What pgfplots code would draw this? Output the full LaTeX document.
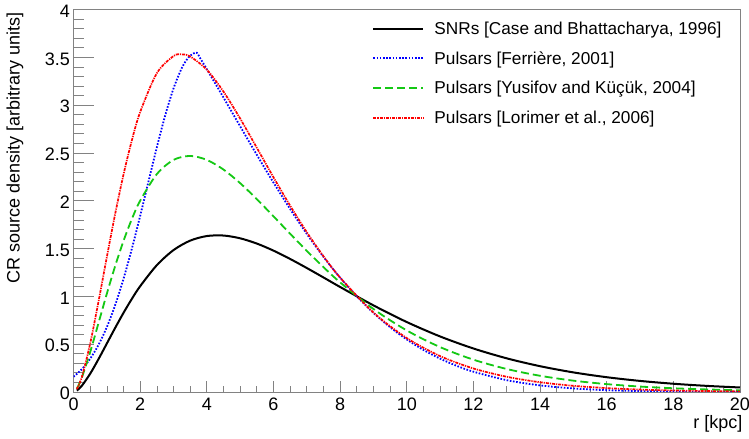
\documentclass[border=0pt]{standalone}
\usepackage{pgfplots}
\pgfplotsset{compat=1.18}
\usepackage{fontspec}
\setmainfont{Liberation Sans}
\definecolor{rootgreen}{RGB}{20,200,20}
\definecolor{rootred}{RGB}{255,0,0}
\definecolor{framegray}{RGB}{130,130,130}
\begin{document}
\fontsize{18bp}{21bp}\selectfont
\begin{tikzpicture}
\pgfplotsset{
  rootframe/.style={
    scale only axis, width=666bp, height=382.2bp,
    xmin=0, xmax=20, ymin=0, ymax=4,
    tick align=inside, tick pos=left,
    tick style={framegray, line width=0.7bp},
    /pgf/number format/assume math mode=true,
  },
}
\tikzset{
  snrline/.style={draw=black, line width=2bp, solid},
  ferline/.style={draw=blue, line width=1.8bp, dash pattern=on 1.6bp off 1.6bp},
  yusline/.style={draw=rootgreen, line width=1.8bp, dash pattern=on 8bp off 4bp},
  lorline/.style={draw=rootred, line width=1.7bp, dash pattern=on 3bp off 1bp on 1.2bp off 1bp},
}
% y ticks (longer, as in ROOT)
\begin{axis}[rootframe,
  axis line style={draw=none},
  xtick=\empty,
  ytick={0,0.5,...,4}, minor y tick num=4,
  major tick length=20bp, minor tick length=10bp,
  yticklabel style={xshift=2.5bp, yshift=-1.5bp},
]
\end{axis}
\begin{axis}[rootframe, name=main,
  axis line style={framegray, line width=0.8bp},
  xtick={0,2,...,20}, minor x tick num=3,
  ytick=\empty,
  major tick length=11bp, minor tick length=5.5bp,
  xlabel={r [kpc]},
  xlabel style={at={(axis description cs:1.0038,-0.0845)}, anchor=east, inner sep=0pt},
  ylabel={CR source density [arbitrary units]},
  ylabel style={at={(axis description cs:-0.0878,0.9935)}, anchor=east, inner sep=0pt},
  legend cell align=left,
  legend style={at={(axis description cs:0.4482,0.9717)}, anchor=north west,
    draw=none, fill=none, inner sep=0pt, row sep=13.7bp, column sep=10bp,
    font=\fontsize{17.2bp}{20bp}\selectfont,
    nodes={inner sep=0pt, text height=14bp, text depth=2bp}},
]
\addplot[snrline, smooth, legend image code/.code={\draw[snrline] (0bp,0bp) -- (50bp,0bp);}] coordinates {
(0.1,0.0147) (0.25,0.0654) (0.5,0.1913) (0.75,0.3442) (1,0.5074) (1.25,0.6708)
(1.5,0.8277) (1.75,0.9738) (2,1.1065) (2.5,1.3263) (3,1.4838) (3.5,1.5828)
(4,1.6307) (4.5,1.6361) (5,1.6070) (5.5,1.5521) (6,1.4782) (6.5,1.3911)
(7,1.2963) (7.5,1.1976) (8,1.0979) (9,0.9055) (10,0.7313) (11,0.5806)
(12,0.4546) (13,0.3517) (14,0.2694) (15,0.2046) (16,0.1543) (17,0.1155)
(18,0.0860) (19,0.0637) (20,0.0469)};
\addlegendentry{SNRs [Case and Bhattacharya, 1996]}
\addplot[ferline, smooth, legend image code/.code={\draw[ferline] (0bp,0bp) -- (50bp,0bp);}] coordinates {
(0,0.1591) (0.25,0.2386) (0.5,0.3480) (0.75,0.4932) (1,0.6793) (1.25,0.9097)
(1.5,1.1840) (1.75,1.4980) (2,1.8424) (2.25,2.2026) (2.5,2.5596) (2.75,2.8916)
(3,3.1749) (3.25,3.3888) (3.4,3.4763) (3.5,3.5160) (3.6,3.5400) (3.7,3.5482)
(3.8,3.4911) (3.9,3.4335) (4,3.3752) (4.25,3.2281) (4.5,3.0790) (4.75,2.9287)
(5,2.7783) (5.25,2.6285) (5.5,2.4801) (5.75,2.3337) (6,2.1901) (6.5,1.9132)
(7,1.6534) (7.5,1.4134) (8,1.1953) (8.5,1.0) (9,0.8276) (9.5,0.6776) (10,0.5488)
(10.5,0.4396) (11,0.3484) (11.5,0.2732) (12,0.2119) (13,0.1234) (14,0.0688)
(15,0.0368) (16,0.0188) (17,0.0092) (18,0.0043) (19,0.0019) (20,0.0008)};
\addlegendentry{Pulsars [Ferrière, 2001]}
\addplot[yusline, smooth, legend image code/.code={\draw[yusline] (0bp,0bp) -- (50bp,0bp);}] coordinates {
(0.1,0.0360) (0.25,0.1509) (0.5,0.4179) (0.75,0.7223) (1,1.0289) (1.25,1.3185)
(1.5,1.5804) (1.75,1.8085) (2,2.0009) (2.5,2.2786) (3,2.4271) (3.5,2.4685)
(4,2.4271) (4.5,2.3258) (5,2.1837) (5.5,2.0166) (6,1.8372) (6.5,1.6545)
(7,1.4758) (7.5,1.3054) (8,1.1463) (9,0.8675) (10,0.6433) (11,0.4692)
(12,0.3377) (13,0.2402) (14,0.1692) (15,0.1182) (16,0.0820) (17,0.0565)
(18,0.0387) (19,0.0264) (20,0.0179)};
\addlegendentry{Pulsars [Yusifov and Küçük, 2004]}
\addplot[lorline, smooth, legend image code/.code={\draw[lorline] (0bp,0bp) -- (50bp,0bp);}] coordinates {
(0.1,0.0302) (0.25,0.1577) (0.5,0.5080) (0.75,0.9475) (1,1.4130) (1.25,1.8636)
(1.5,2.2750) (1.75,2.6319) (2,2.9283) (2.5,3.3342) (3,3.5132) (3.25,3.5309)
(3.5,3.5089) (4,3.3700) (4.5,3.1410) (5,2.8594) (5.5,2.5538) (6,2.2452)
(6.5,1.9481) (7,1.6710) (7.5,1.4197) (8,1.1959) (9,0.8307) (10,0.5635)
(11,0.3751) (12,0.2457) (13,0.1589) (14,0.1015) (15,0.0643) (16,0.0404)
(17,0.0251) (18,0.0156) (19,0.0096) (20,0.0059)};
\addlegendentry{Pulsars [Lorimer et al., 2006]}
\end{axis}
\pgfresetboundingbox
\path[use as bounding box] ([shift={(-73.5bp,-46.3bp)}]main.south west) rectangle ([shift={(9bp,9.5bp)}]main.north east);
\end{tikzpicture}
\end{document}
